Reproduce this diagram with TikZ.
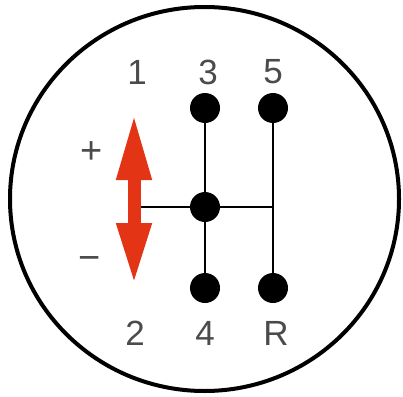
\documentclass[tikz,border=0pt]{standalone}
\usepackage{fontspec}
\setmainfont{Liberation Sans}
\usetikzlibrary{arrows.meta,positioning}
\definecolor{shiftred}{RGB}{228,52,22}
\definecolor{labelgray}{RGB}{75,75,75}

\begin{document}
\begin{tikzpicture}[
    x=1pt, y=-1pt,
    knob/.style={circle, fill=black, inner sep=0pt, minimum size=30pt},
    gearlabel/.style={inner sep=0pt, text=labelgray, font=\fontsize{35}{35}\selectfont},
    signlabel/.style={inner sep=0pt, text=labelgray, font=\fontsize{38}{38}\selectfont},
    gate/.style={line width=2.8pt, draw=black},
    updown/.style={line width=13pt, draw=shiftred,
                   {Triangle[length=67pt, width=32pt]}-{Triangle[length=62pt, width=32pt]}}
]
\useasboundingbox (0,0) rectangle (403,396);

% Outer ring of the knob
\draw[line width=4pt] (204.5,199) ellipse [x radius=194.5, y radius=192];

% Gear positions
\node[knob] (gear3) at (205,108) {};
\node[knob] (gear5) at (273,108) {};
\node[knob] (neutral) at (205,207) {};
\node[knob] (gear4) at (205,288) {};
\node[knob] (gearR) at (273,288) {};
\coordinate (rgate) at (273,207);
\coordinate (shaft) at (134,207);

% Shift gate
\draw[gate] (gear3) -- (gear4);
\draw[gate] (gear5) -- (gearR);
\draw[gate] (shaft) -- (rgate);

% Red arrow for 1/2
\coordinate (tipup) at (134,113);
\coordinate (tipdown) at (134,285);
\draw[updown] (tipup) -- (tipdown);

% Labels
\node[gearlabel] (lab1) at (137,72) {1};
\node[gearlabel] (lab3) at (208,72) {3};
\node[gearlabel] (lab5) at (273,72) {5};
\node[gearlabel] (lab2) at (135,333) {2};
\node[gearlabel] (lab4) at (205,333) {4};
\node[gearlabel] (labR) at (276,333) {R};
\node[signlabel] (plus) at (92,153) {+};
\node[signlabel] (minus) at (90,263) {−};

\end{tikzpicture}
\end{document}
